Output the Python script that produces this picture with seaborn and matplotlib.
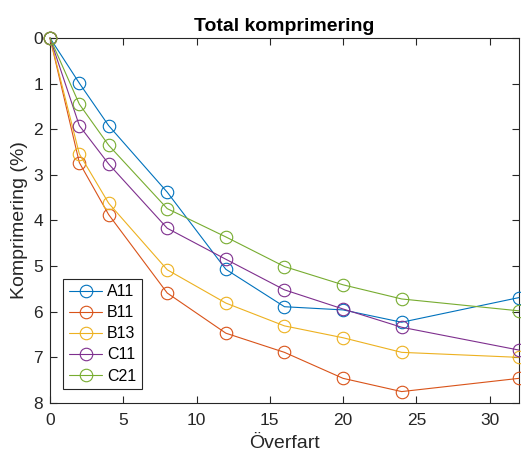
import matplotlib
matplotlib.use("Agg")
import matplotlib.pyplot as plt
import seaborn as sns
import pandas as pd

# Pass number (överfart) at which compression was measured
overfart = [0, 2, 4, 8, 12, 16, 20, 24, 32]

# Total compression (%) per test section
a11 = [0, 0.99, 1.92, 3.38, 5.07, 5.89, 5.96, 6.23, 5.69]
b11 = [0, 2.73, 3.87, 5.59, 6.47, 6.89, 7.46, 7.75, 7.46]
b13 = [0, 2.54, 3.62, 5.08, 5.81, 6.31, 6.57, 6.89, 7.00]
c11 = [0, 1.92, 2.76, 4.17, 4.85, 5.52, 5.94, 6.34, 6.84]
c21 = [0, 1.45, 2.35, 3.74, 4.36, 5.01, 5.41, 5.72, 5.98]

series_names = ["A11", "B11", "B13", "C11", "C21"]
series_values = [a11, b11, b13, c11, c21]
colors = ["#0072BD", "#D95319", "#EDB120", "#7E2F8E", "#77AC30"]

x_ticks = [0, 5, 10, 15, 20, 25, 30]
y_ticks = [0, 1, 2, 3, 4, 5, 6, 7, 8]

sns.set_style("ticks")
plt.rcParams["font.family"] = ["Liberation Sans", "DejaVu Sans"]
plt.rcParams["xtick.direction"] = "in"
plt.rcParams["ytick.direction"] = "in"

ink = "#262626"

fig = plt.figure(figsize=(5.21, 4.55), dpi=100)
ax = fig.add_axes([0.096, 0.1143, 0.9, 0.8022])

for name, vals, col in zip(series_names, series_values, colors):
    df = pd.DataFrame({"Överfart": overfart, "Komprimering": vals})
    sns.lineplot(data=df, x="Överfart", y="Komprimering", ax=ax, color=col,
                 marker="o", markersize=9, markerfacecolor="none",
                 markeredgecolor=col, markeredgewidth=0.8, linewidth=0.8,
                 label=name, sort=False, clip_on=False, zorder=3)

ax.set_xlim(0, 32)
ax.set_ylim(8, 0)
ax.set_xticks(x_ticks)
ax.set_yticks(y_ticks)

for side in ["top", "right", "bottom", "left"]:
    ax.spines[side].set_visible(True)
    ax.spines[side].set_color(ink)
    ax.spines[side].set_linewidth(0.8)

ax.tick_params(axis="both", which="both", direction="in", top=True, right=True,
               length=5, width=0.8, color=ink, labelcolor=ink, labelsize=12.5)
ax.tick_params(axis="x", pad=7)
ax.tick_params(axis="y", pad=5)

ax.set_xlabel("Överfart", fontsize=14, color=ink, labelpad=5)
ax.set_ylabel("Komprimering (%)", fontsize=14, color=ink, labelpad=4)
ax.set_title("Total komprimering", fontsize=14, fontweight="bold", color="black", pad=5)

leg = ax.legend(loc="lower left", bbox_to_anchor=(0.028, 0.038), fontsize=11.5,
                frameon=True, fancybox=False, framealpha=1, edgecolor=ink,
                handlelength=2.1, handletextpad=0.3, borderpad=0.35,
                labelspacing=0.38, borderaxespad=0)
leg.get_frame().set_linewidth(0.8)
for t in leg.get_texts():
    t.set_color("black")

fig.savefig("out.png", dpi=100)
